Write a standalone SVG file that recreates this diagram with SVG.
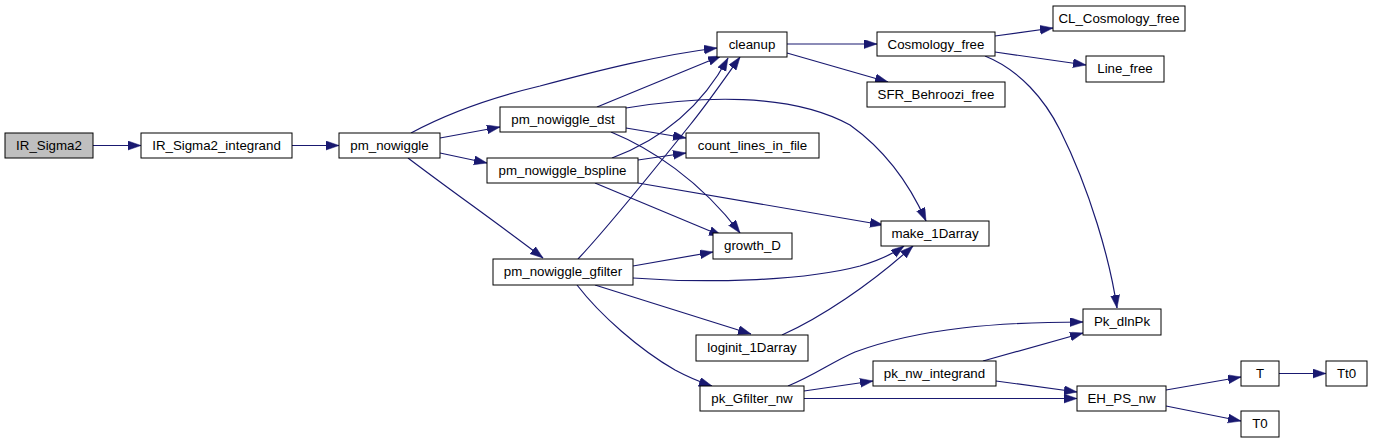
<svg xmlns="http://www.w3.org/2000/svg" width="1379" height="443" viewBox="0 0 1379 443">
<style>
.n rect{fill:#ffffff;stroke:#000000;stroke-width:1}
.n.root rect{fill:#bfbfbf}
.n text{font-family:"Liberation Sans",Arial,sans-serif;font-size:13.3px;fill:#000000;text-anchor:middle}
.e path{fill:none;stroke:#191970;stroke-width:1.2;marker-end:url(#ah)}
</style>
<defs>
<marker id="ah" markerUnits="userSpaceOnUse" markerWidth="14" markerHeight="10" refX="13" refY="4.5" orient="auto">
<path d="M0,0 L13,4.5 L0,9 z" fill="#191970" stroke="#191970" stroke-width="0.5"/>
</marker>
</defs>
<g id="edges" class="e">
<path d="M93,145.5 L141,145.5"/>
<path d="M292,145.5 L339,145.5"/>
<path d="M411,133 C 450,112 490,98 540,86 C 600,70 660,55 717,48"/>
<path d="M440,138 L500,127"/>
<path d="M440,153 L487,163"/>
<path d="M408,158 C 450,190 500,225 543,258"/>
<path d="M597,107 L721,56"/>
<path d="M626,128 L686,138"/>
<path d="M626,108 C 700,96 790,92 850,125 C 885,150 910,185 926,221"/>
<path d="M611,132 C 650,148 700,180 740,233"/>
<path d="M612,158 C 660,140 700,110 728,58"/>
<path d="M638,160 L686,153"/>
<path d="M595,183 L722,236"/>
<path d="M638,183 L883,225"/>
<path d="M578,259 C 610,225 650,175 690,125 C 710,100 725,78 740,57"/>
<path d="M633,266 L713,252"/>
<path d="M633,278 C 700,283 800,282 860,266 C 880,260 893,254 904,246"/>
<path d="M595,285 L751,334"/>
<path d="M577,285 C 600,315 640,350 675,370 C 688,377 700,382 712,386"/>
<path d="M782,335 C 820,318 870,285 913,246"/>
<path d="M788,386 C 815,375 832,362 855,352 C 920,328 1000,322 1083,322"/>
<path d="M804,391 L873,381"/>
<path d="M804,398.5 L1077,398.5"/>
<path d="M983,361 L1083,333"/>
<path d="M996,381 L1077,392"/>
<path d="M1166,390 L1241,377"/>
<path d="M1166,406 L1241,421"/>
<path d="M1279,373.5 L1326,373.5"/>
<path d="M787,44 L877,44"/>
<path d="M787,53 L888,82"/>
<path d="M995,36 L1053,28"/>
<path d="M995,52 L1086,65"/>
<path d="M985,56 C 1020,70 1045,100 1060,130 C 1090,190 1110,260 1117,308"/>
</g>
<g id="IR_Sigma2" class="n root"><rect x="5" y="133" width="88" height="25"/><text x="49" y="150">IR_Sigma2</text></g>
<g id="IR_Sigma2_integrand" class="n"><rect x="141" y="133" width="151" height="25"/><text x="216.5" y="150">IR_Sigma2_integrand</text></g>
<g id="pm_nowiggle" class="n"><rect x="339" y="133" width="101" height="25"/><text x="389.5" y="150">pm_nowiggle</text></g>
<g id="cleanup" class="n"><rect x="717" y="32" width="70" height="25"/><text x="752" y="49">cleanup</text></g>
<g id="pm_nowiggle_dst" class="n"><rect x="500" y="107" width="126" height="25"/><text x="563" y="124">pm_nowiggle_dst</text></g>
<g id="count_lines_in_file" class="n"><rect x="686" y="133" width="133" height="25"/><text x="752.5" y="150">count_lines_in_file</text></g>
<g id="pm_nowiggle_bspline" class="n"><rect x="487" y="158" width="151" height="25"/><text x="562.5" y="175">pm_nowiggle_bspline</text></g>
<g id="growth_D" class="n"><rect x="713" y="233" width="79" height="26"/><text x="752.5" y="250">growth_D</text></g>
<g id="pm_nowiggle_gfilter" class="n"><rect x="493" y="259" width="140" height="26"/><text x="563" y="276">pm_nowiggle_gfilter</text></g>
<g id="loginit_1Darray" class="n"><rect x="696" y="335" width="112" height="26"/><text x="752" y="352">loginit_1Darray</text></g>
<g id="pk_Gfilter_nw" class="n"><rect x="700" y="386" width="104" height="25"/><text x="752" y="403">pk_Gfilter_nw</text></g>
<g id="Cosmology_free" class="n"><rect x="877" y="32" width="118" height="24"/><text x="936" y="48.5">Cosmology_free</text></g>
<g id="CL_Cosmology_free" class="n"><rect x="1053" y="6" width="132" height="25"/><text x="1119" y="23">CL_Cosmology_free</text></g>
<g id="Line_free" class="n"><rect x="1086" y="56" width="78" height="26"/><text x="1125" y="73">Line_free</text></g>
<g id="SFR_Behroozi_free" class="n"><rect x="867" y="82" width="138" height="25"/><text x="936" y="99">SFR_Behroozi_free</text></g>
<g id="make_1Darray" class="n"><rect x="881" y="221" width="108" height="25"/><text x="935" y="238">make_1Darray</text></g>
<g id="Pk_dlnPk" class="n"><rect x="1083" y="309" width="78" height="26"/><text x="1122" y="326">Pk_dlnPk</text></g>
<g id="pk_nw_integrand" class="n"><rect x="873" y="361" width="123" height="25"/><text x="934.5" y="378">pk_nw_integrand</text></g>
<g id="EH_PS_nw" class="n"><rect x="1077" y="386" width="89" height="25"/><text x="1121.5" y="403">EH_PS_nw</text></g>
<g id="T" class="n"><rect x="1241" y="361" width="38" height="25"/><text x="1260" y="378">T</text></g>
<g id="Tt0" class="n"><rect x="1326" y="361" width="41" height="25"/><text x="1346.5" y="378">Tt0</text></g>
<g id="T0" class="n"><rect x="1241" y="411" width="38" height="26"/><text x="1260" y="428">T0</text></g>
</svg>
